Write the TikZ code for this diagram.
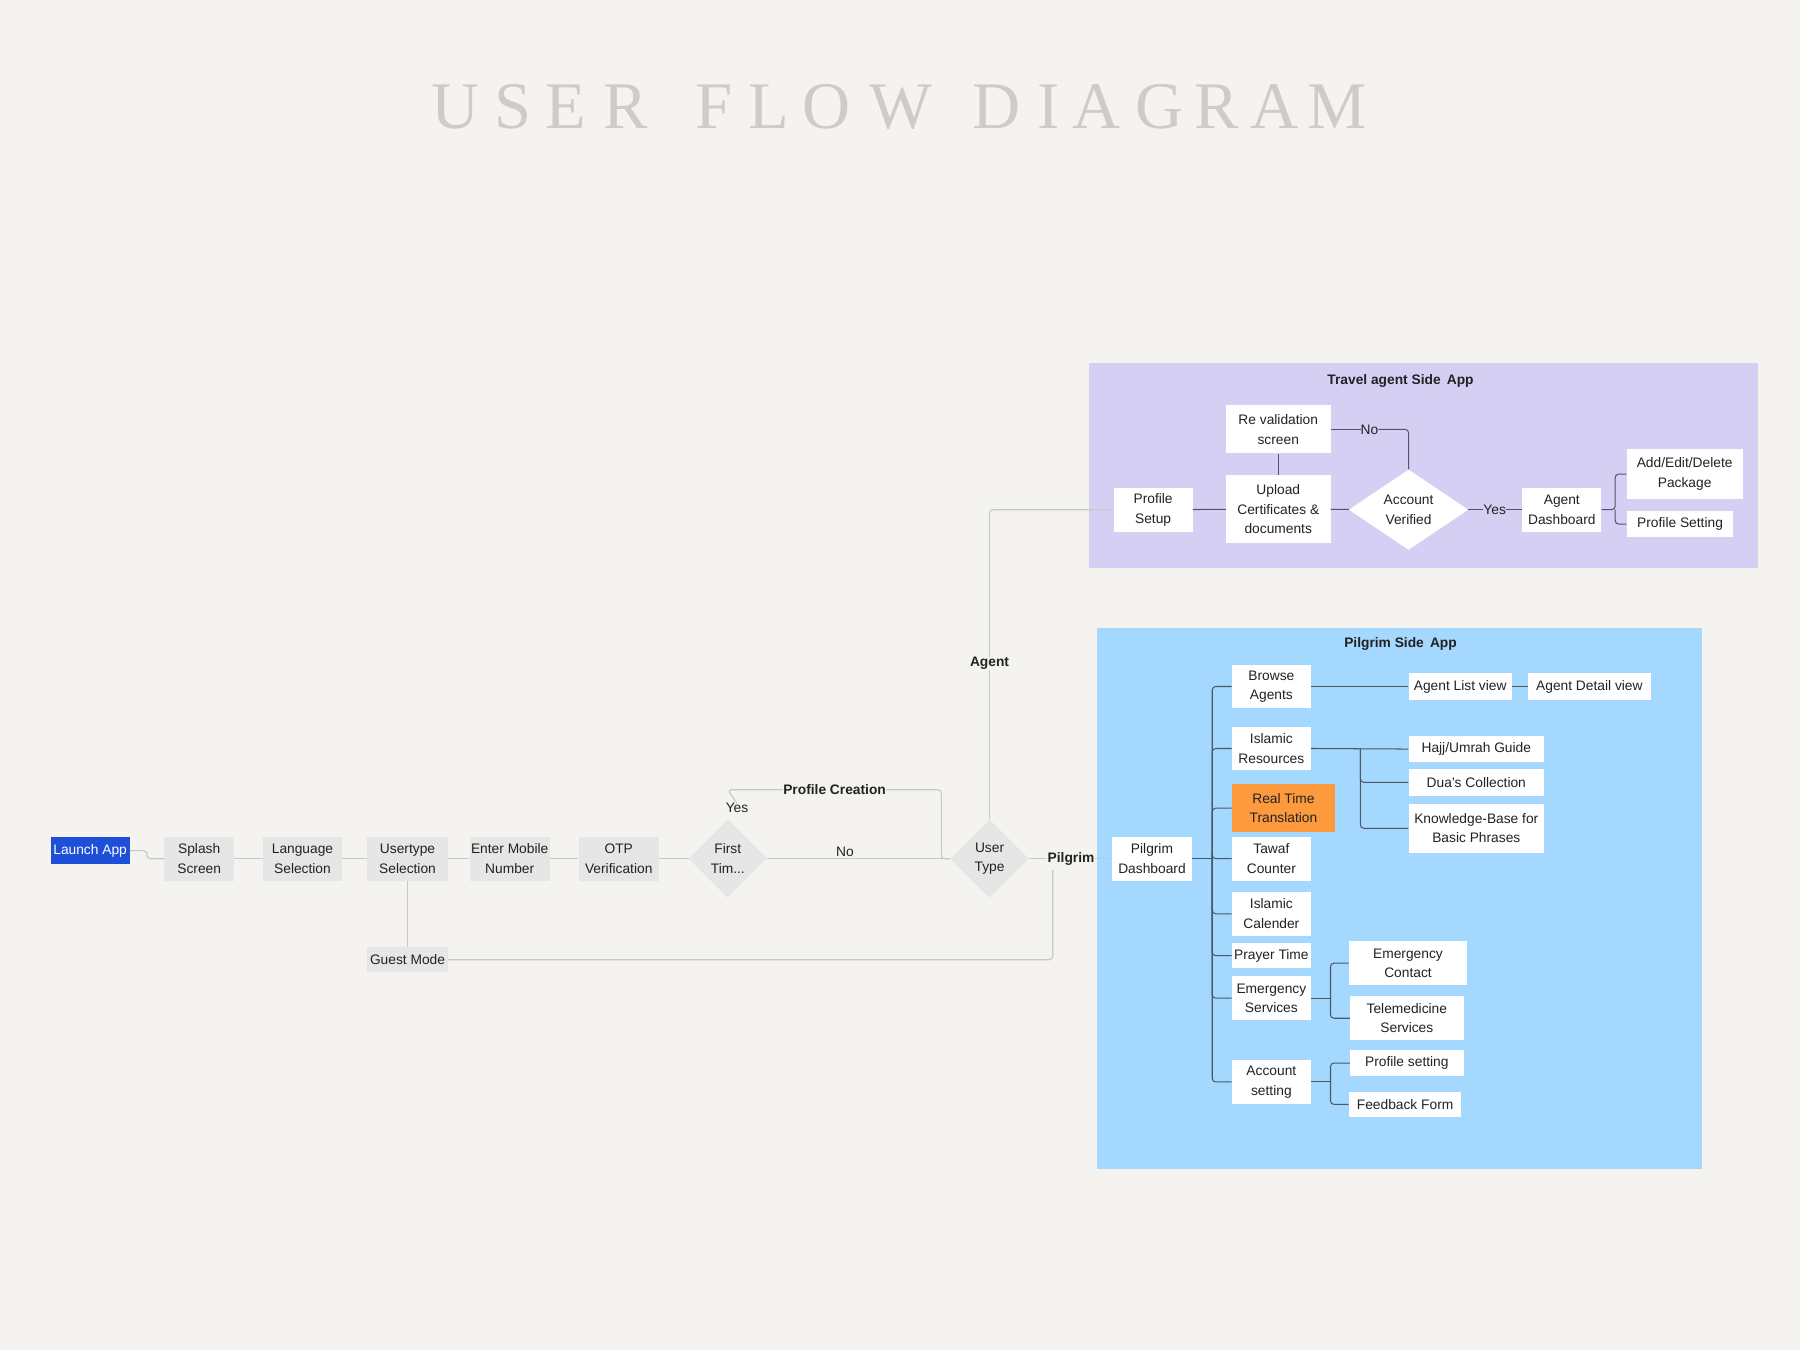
\documentclass[tikz,border=0pt]{standalone}
\usepackage{fontspec}
\setmainfont{Liberation Sans}
\newfontfamily\titlefont{Liberation Serif}
\usetikzlibrary{shapes.geometric}
\definecolor{bg}{HTML}{F4F3F0}
\definecolor{gbox}{HTML}{E6E6E6}
\definecolor{lav}{HTML}{D6CFF4}
\definecolor{sky}{HTML}{A5D8FF}
\definecolor{orng}{HTML}{FD9A3E}
\definecolor{blu}{HTML}{1E4FD8}
\definecolor{lgray}{HTML}{C8C8C8}
\definecolor{dline}{HTML}{4A5868}
\definecolor{ttl}{HTML}{CFCBC6}
\definecolor{txt}{HTML}{222222}
\begin{document}
\begin{tikzpicture}[x=1pt,y=-1pt,
  every node/.style={font=\fontsize{12}{17}\selectfont,text=txt,inner sep=0pt,align=center},
  box/.style={fill=white,rectangle},
  gb/.style={fill=gbox,rectangle},
  dia/.style={diamond,fill=gbox,aspect=1,minimum width=68,minimum height=68},
  lbl/.style={font=\bfseries\fontsize{12}{14}\selectfont},
  fl/.style={draw=lgray,line width=1pt,rounded corners=3pt},
  dl/.style={draw=dline,line width=0.9pt,rounded corners=3pt},
  tl/.style={font=\titlefont\fontsize{58}{58}\selectfont,text=ttl}]
\useasboundingbox (0,0) rectangle (1568,1176);
\fill[bg] (0,0) rectangle (1568,1176);
% title
\foreach \c/\x in {U/397,S/447,E/493,R/545,F/622,L/670,O/720,W/785,D/868,I/913,A/955,G/1010,R/1060,A/1110,M/1165}
  \node[tl] (t\x) at (\x,93) {\c};
% panels
\fill[lav] (949,316) rectangle (1531,495);
\fill[sky] (956,547) rectangle (1483,1018);
\node[lbl] (tat) at (1220,332) {Travel agent Side\, App};
\node[lbl] (pst) at (1220,561) {Pilgrim Side\, App};
% main flow
\node[fill=blu,minimum width=69,minimum height=24,text=white] (launch) at (78.5,741) {Launch App};
\node[gb,minimum width=61,minimum height=38] (splash) at (173.5,748) {Splash\\Screen};
\node[gb,minimum width=69,minimum height=38] (lang) at (263.5,748) {Language\\Selection};
\node[gb,minimum width=70,minimum height=38] (utype) at (355,748) {Usertype\\Selection};
\node[gb,minimum width=70,minimum height=38] (mobile) at (444,748) {Enter Mobile\\Number};
\node[gb,minimum width=70,minimum height=38] (otp) at (539,748) {OTP\\Verification};
\node[dia] (first) at (634,748) {First\\Tim...};
\node[dia] (user) at (862,748) {User\\Type};
\node[gb,minimum width=70,minimum height=22] (guest) at (355,836) {Guest Mode};
\node[lbl] (pil) at (933,748) {Pilgrim};
\node[lbl] (agent) at (862,578) {Agent};
\node[lbl] (pc) at (727,688) {Profile Creation};
\node (yes1) at (642,704) {Yes};
\node (no1) at (736,742) {No};
\coordinate (c1) at (917,836);
\draw[fl] (launch.east) -- (128,741) -- (128,748) -- (splash.west);
\draw[fl] (splash) -- (lang);
\draw[fl] (lang) -- (utype);
\draw[fl] (utype) -- (mobile);
\draw[fl] (mobile) -- (otp);
\draw[fl] (otp) -- (first);
\draw[fl] (first.east) -- (user.west);
\draw[fl] (utype) -- (guest);
\draw[fl] (guest.east) -- (c1) -- (917,758);
\draw[fl] (yes1.north) -- (634,688) -- (pc.west);
\draw[fl] (pc.east) -- (820,688) -- (820,748) -- (user.west);
\draw[fl] (user.north) -- (agent.south);
\draw[fl] (user.east) -- (pil.west);
% travel agent
\node[box,minimum width=69,minimum height=38] (ps) at (1004.5,444) {Profile\\Setup};
\node[box,minimum width=91,minimum height=59] (up) at (1113.5,443.5) {Upload\\Certificates \&\\documents};
\node[box,minimum width=91,minimum height=42] (rv) at (1113.5,374) {Re validation\\screen};
\node[diamond,fill=white,minimum width=104,minimum height=70,aspect=1.5] (av) at (1227,444) {Account\\Verified};
\node[box,minimum width=69,minimum height=38] (ad) at (1360.5,444) {Agent\\Dashboard};
\node[box,minimum width=101,minimum height=44] (aed) at (1467.5,413) {Add/Edit/Delete\\Package};
\node[box,minimum width=93,minimum height=23] (pset) at (1463.5,456.5) {Profile Setting};
\node (no2) at (1193,374) {No};
\node (yes2) at (1302,444) {Yes};
\draw[fl] (agent.north) -- (862,444) -- (ps.west);
\draw[dl] (ps) -- (up);
\draw[dl] (up) -- (rv);
\draw[dl] (up) -- (av);
\draw[dl] (rv.east) -- (no2.west);
\draw[dl] (no2.east) -- (1227,374) -- (av.north);
\draw[dl] (av.east) -- (yes2.west);
\draw[dl] (yes2.east) -- (ad.west);
\draw[dl] (ad.east) -- (1407,444) -- (1407,413) -- (aed.west);
\draw[dl] (1407,444) -- (1407,456.5) -- (pset.west);
% pilgrim
\node[box,minimum width=69,minimum height=38] (pd) at (1003.5,748) {Pilgrim\\Dashboard};
\draw[fl] (pil.east) -- (pd.west);
\node[box,minimum width=69,minimum height=38] (ba) at (1107.5,598) {Browse\\Agents};
\node[box,minimum width=69,minimum height=38] (ir) at (1107.5,652) {Islamic\\Resources};
\node[fill=orng,minimum width=90,minimum height=42] (rt) at (1118,704) {Real Time\\Translation};
\node[box,minimum width=69,minimum height=38] (tc) at (1107.5,748) {Tawaf\\Counter};
\node[box,minimum width=69,minimum height=38] (ic) at (1107.5,796) {Islamic\\Calender};
\node[box,minimum width=69,minimum height=22] (pt) at (1107.5,832.5) {Prayer Time};
\node[box,minimum width=69,minimum height=38] (es) at (1107.5,869.5) {Emergency\\Services};
\node[box,minimum width=69,minimum height=38] (as) at (1107.5,942.5) {Account\\setting};
\node[box,minimum width=90,minimum height=23] (alv) at (1272,598) {Agent List view};
\node[box,minimum width=107,minimum height=23] (adv) at (1384.5,598) {Agent Detail view};
\node[box,minimum width=118,minimum height=23] (hug) at (1286,652.5) {Hajj/Umrah Guide};
\node[box,minimum width=118,minimum height=23] (dc) at (1286,681.5) {Dua's Collection};
\node[box,minimum width=118,minimum height=43] (kb) at (1286,721.5) {Knowledge-Base for\\Basic Phrases};
\node[box,minimum width=103,minimum height=38] (ec) at (1226.5,839) {Emergency\\Contact};
\node[box,minimum width=99,minimum height=38] (tm) at (1225.5,887) {Telemedicine\\Services};
\node[box,minimum width=99,minimum height=23] (pfs) at (1225.5,926) {Profile setting};
\node[box,minimum width=98,minimum height=22] (ff) at (1224,962) {Feedback Form};
\draw[dl] (pd.east) -- (1056,748);
\foreach \n in {ba,ir,rt,tc,ic,pt,es,as}
  \draw[dl] (1056,748) |- (\n.west);
\draw[dl] (ba) -- (alv);
\draw[dl] (alv) -- (adv);
\draw[dl] (ir.east) -- (hug.west);
\foreach \n in {dc,kb} \draw[dl] (1185,652) |- (\n.west);
\draw[dl] (es.east) -- (1159,869.5);
\foreach \n in {ec,tm} \draw[dl] (1159,869.5) |- (\n.west);
\draw[dl] (as.east) -- (1159,942.5);
\foreach \n in {pfs,ff} \draw[dl] (1159,942.5) |- (\n.west);
\end{tikzpicture}
\end{document}
